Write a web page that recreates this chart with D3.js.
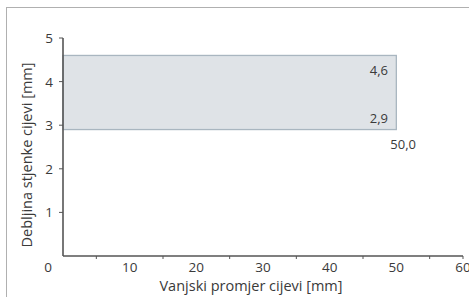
<!DOCTYPE html>
<html><head><meta charset="utf-8">
<script src="https://cdn.jsdelivr.net/npm/d3@7"></script>
<style>
body{margin:0;background:#fff;}
text{font-family:"Open Sans","Lato",sans-serif;fill:#3a3a3a;}
</style></head>
<body><svg id="c" width="469" height="297"></svg>
<script>
const xTicks = [10, 20, 30, 40, 50, 60];
const xMinorTicks = [5, 15, 25, 35, 45, 55];
const yTicks = [1, 2, 3, 4, 5];
const bandX = [0, 50.0];
const bandY = [2.9, 4.6];
const bandLabels = ["4,6", "2,9"];
const endLabel = "50,0";
const xTitle = "Vanjski promjer cijevi [mm]";
const yTitle = "Debljina stjenke cijevi [mm]";

const svg = d3.select("#c");
const x = d3.scaleLinear().domain([0, 60]).range([63, 463]);
const y = d3.scaleLinear().domain([0, 5]).range([256, 38]);

// frame
svg.append("rect").attr("x", 6.5).attr("y", 7.5).attr("width", 480).attr("height", 300)
  .attr("fill", "none").attr("stroke", "#b0b0b0").attr("stroke-width", 1);

// band
svg.append("rect")
  .attr("x", x(bandX[0])).attr("y", y(bandY[1]))
  .attr("width", x(bandX[1]) - x(bandX[0])).attr("height", y(bandY[0]) - y(bandY[1]))
  .attr("fill", "#dfe3e7").attr("stroke", "#a9b6c0").attr("stroke-width", 1.3);

// axes
const ax = svg.append("g").attr("stroke", "#555");
ax.append("line").attr("x1", x(0)).attr("x2", x(60)).attr("y1", y(0)).attr("y2", y(0)).attr("stroke-width", 1.6);
ax.append("line").attr("x1", x(0)).attr("x2", x(0)).attr("y1", y(0)).attr("y2", y(5)).attr("stroke-width", 1.6);
ax.selectAll(".xt").data(xMinorTicks.concat([60])).enter().append("line")
  .attr("x1", d => x(d)).attr("x2", d => x(d)).attr("y1", y(0)).attr("y2", y(0) + 3).attr("stroke-width", 1);
ax.selectAll(".yt").data(yTicks).enter().append("line")
  .attr("x1", x(0) - 4).attr("x2", x(0)).attr("y1", d => y(d)).attr("y2", d => y(d)).attr("stroke-width", 1);

// tick labels
svg.selectAll(".xl").data(xTicks).enter().append("text")
  .attr("x", d => x(d)).attr("y", 272).attr("text-anchor", "middle")
  .attr("font-size", 13.5).text(d => d);
svg.append("text").attr("x", 48).attr("y", 272).attr("text-anchor", "middle").attr("font-size", 13.5).text("0");
svg.selectAll(".yl").data(yTicks).enter().append("text")
  .attr("x", 53).attr("y", d => y(d) + 5).attr("text-anchor", "end")
  .attr("font-size", 13.5).text(d => d);

// value labels
svg.append("text").attr("x", 388).attr("y", y(bandY[1]) + 20).attr("text-anchor", "end").attr("font-size", 13).text(bandLabels[0]);
svg.append("text").attr("x", 388).attr("y", y(bandY[0]) - 7).attr("text-anchor", "end").attr("font-size", 13).text(bandLabels[1]);
svg.append("text").attr("x", x(bandX[1]) - 6).attr("y", y(bandY[0]) + 19).attr("text-anchor", "start").attr("font-size", 13).text(endLabel);

// titles
svg.append("text").attr("x", 251).attr("y", 291).attr("text-anchor", "middle").attr("font-size", 14.5).text(xTitle);
svg.append("text").attr("transform", "translate(32,155) rotate(-90)").attr("text-anchor", "middle").attr("font-size", 14.5).text(yTitle);
</script></body></html>
